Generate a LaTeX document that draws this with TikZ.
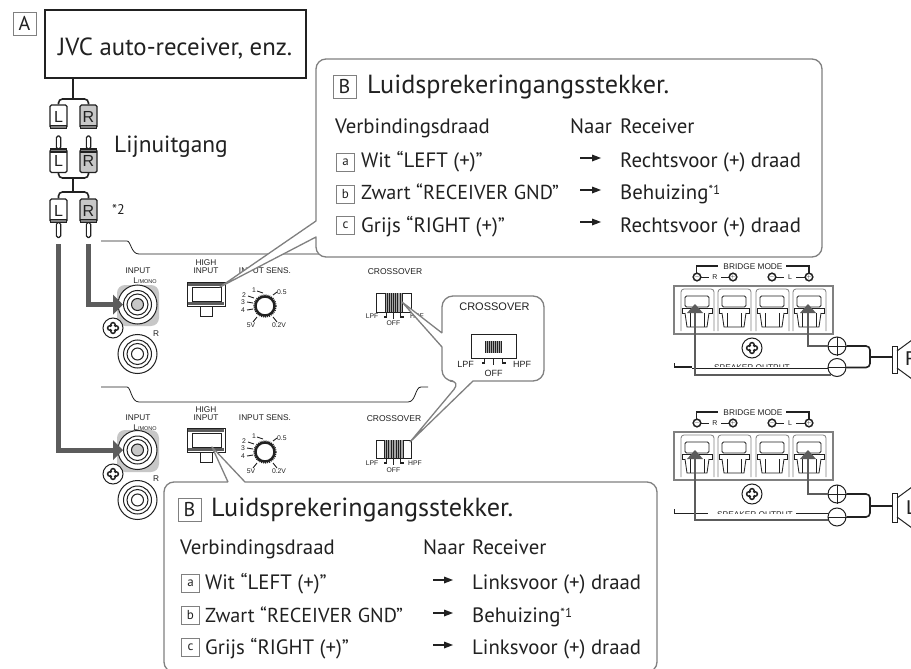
\documentclass[tikz,border=0pt]{standalone}
\usepackage{fontspec}
\setmainfont{PT Sans}
\newfontfamily\hv{Liberation Sans}
\usetikzlibrary{calc}
\definecolor{ink}{gray}{0.13}
\definecolor{bubgray}{gray}{0.5}
\definecolor{wiregray}{gray}{0.36}
\definecolor{lightfill}{gray}{0.78}
\tikzset{
  x=1pt,y=-1pt,
  bubble/.style={draw=bubgray,line width=1.3pt,fill=white,line join=round},
  boxlabel/.style={draw=bubgray,line width=0.9pt,fill=white,inner sep=0pt,text=ink},
  big/.style={anchor=base west,inner sep=0pt,text=ink,font=\fontsize{26.2}{26}\selectfont},
  mid/.style={anchor=base west,inner sep=0pt,text=ink,font=\fontsize{20.8}{21}\selectfont},
  midcaps/.style={anchor=base west,inner sep=0pt,text=ink,font=\fontsize{20.2}{21}\selectfont},
  tiny/.style={inner sep=0pt,text=ink,font=\hv\fontsize{8.3}{8.3}\selectfont,align=center},
  nano/.style={inner sep=0pt,text=ink,font=\hv\fontsize{6.8}{6.8}\selectfont},
  plugbody/.style={draw=ink,line width=1.2pt,rounded corners=1.5pt,minimum width=17pt,minimum height=23pt,inner sep=0pt,text=ink,font=\hv\fontsize{16}{16}\selectfont},
  pinshape/.style={draw=ink,line width=1.1pt,fill=white,rounded corners=1.8pt},
  cable/.style={draw=ink,line width=1.6pt,rounded corners=4pt},
  thickcable/.style={draw=wiregray,line width=5pt},
  panel/.style={draw=ink,line width=0.8pt},
  thinwire/.style={draw=wiregray,line width=2.4pt},
  blackwire/.style={draw=ink,line width=1.6pt,rounded corners=4pt},
}
\newcommand{\upin}[1]{\draw[pinshape] ([xshift=-2.2pt]#1.north) rectangle ++(4.4,-13);}
\newcommand{\dpin}[1]{\draw[pinshape] ([xshift=-2.2pt]#1.south) rectangle ++(4.4,15);}
\newcommand{\screw}[2]{%
  \draw[ink,line width=1pt,fill=white] (#1,#2) circle[radius=10];
  \foreach \a in {0,90,180,270}{\draw[ink,line width=1.5pt] ($(#1,#2)+(\a:3.2)$) circle[radius=2.2];}
  \fill[white] (#1,#2) circle[radius=2.2];}
\newcommand{\rings}[3]{%
  \draw[ink,line width=1pt,fill=white] (#1,#2) circle[radius=19.5];
  \draw[ink,line width=1pt] (#1,#2) circle[radius=14];
  \draw[ink,line width=1pt] (#1,#2) circle[radius=10.5];
  \draw[ink,line width=1pt,fill=#3] (#1,#2) circle[radius=6];}
\newcommand{\knob}[2]{%
  \draw[ink,line width=2.4pt] (#1,#2) circle[radius=9.5];
  \draw[ink,line width=1.4pt,dash pattern=on 1pt off 1pt] (#1,#2) circle[radius=11];
  \foreach \dx/\dy/\ex/\ey in {-2/-13/-8/-15, 8/-11/12/-14, -11/-8/-17/-10, -12/-3/-18/-4, -12/3/-18/4, -8/11/-12/16, 8/11/12/16}
    {\draw[ink,line width=0.9pt] ($(#1,#2)+(\dx,\dy)$) -- ($(#1,#2)+(\ex,\ey)$);}
  \node[nano] at ($(#1,#2)+(-11,-16)$) {1};
  \node[nano,anchor=west] at ($(#1,#2)+(12,-14)$) {0.5};
  \node[nano] at ($(#1,#2)+(-21,-11)$) {2};
  \node[nano] at ($(#1,#2)+(-22,-4)$) {3};
  \node[nano] at ($(#1,#2)+(-22,4)$) {4};
  \node[nano] at ($(#1,#2)+(-14,19)$) {5V};
  \node[nano] at ($(#1,#2)+(14,19)$) {0.2V};}
% x1 y1 x2 y2 sx1 sx2 sy1 sy2
\newcommand{\slider}[8]{%
  \draw[ink,line width=0.9pt,fill=white] (#1,#2) rectangle (#3,#4);
  \fill[gray!70] (#5,#7) rectangle (#6,#8);
  \foreach \k in {0,...,8}{\draw[ink,line width=0.6pt] ($(#5,#7)!\k/8!(#6,#7)$) -- ($(#5,#8)!\k/8!(#6,#8)$);}
  \draw[ink,line width=1.2pt] ($(#1,#4)!.3!(#3,#4)$) -- ++(0,5) -- ++(-3,0);
  \draw[ink,line width=1.2pt] ($(#1,#4)!.5!(#3,#4)$) -- ++(0,7);
  \draw[ink,line width=1.2pt] ($(#1,#4)!.7!(#3,#4)$) -- ++(0,5) -- ++(3,0);}
\newcommand{\highinput}[2]{%
  \draw[ink,line width=0.8pt,fill=white] (#1+13,#2+24) rectangle (#1+25,#2+34);
  \draw[ink,line width=1pt,fill=white] (#1,#2) rectangle (#1+38,#2+24);
  \fill[wiregray] (#1+1,#2+1) rectangle (#1+37,#2+4);
  \fill[wiregray] (#1+1,#2+20) rectangle (#1+37,#2+23);
  \draw[ink,line width=0.8pt,fill=white] (#1+5,#2+5) rectangle (#1+34,#2+19);}
\newcommand{\termunit}[2]{%
  \draw[bubgray,line width=0.8pt,rounded corners=3pt] (#1-16,#2+45) -- (#1-16,#2+3) -- (#1+17,#2+3) -- (#1+17,#2+45);
  \draw[ink,line width=0.8pt,rounded corners=1.5pt,fill=white] (#1-12,#2+10) rectangle (#1+12,#2+21);
  \draw[ink,line width=0.8pt,fill=white] (#1-15,#2+22) rectangle (#1+15,#2+27);
  \draw[ink,line width=0.8pt,fill=white] (#1-12,#2+27) -- (#1-10,#2+41) -- (#1+10,#2+41) -- (#1+12,#2+27);
  \draw[ink,line width=0.6pt] (#1-7,#2+27) -- (#1-7,#2+41) (#1+7,#2+27) -- (#1+7,#2+41);}
\newcommand{\bridge}[1]{%
  \draw[ink,line width=1.3pt] (696.5,#1-12) -- (696.5,#1-20) -- (718,#1-20);
  \draw[ink,line width=1.3pt] (809,#1-12) -- (809,#1-20) -- (786,#1-20);
  \node[tiny,fill=white,inner xsep=1pt] at (753,#1-19.5) {BRIDGE MODE};
  \foreach \cx/\s in {697/-,733/+,772/-,809/+}{\draw[ink,line width=1.5pt,fill=white] (\cx,#1-9) circle[radius=3.8];\node[inner sep=0pt,font=\hv\fontsize{5}{5}\selectfont] at (\cx,#1-9) {$\s$};}
  \draw[ink,line width=1pt] (701,#1-9) -- (709,#1-9) (721,#1-9) -- (729,#1-9) (776,#1-9) -- (784,#1-9) (796,#1-9) -- (805,#1-9);
  \node[nano,font=\hv\fontsize{7}{7}\selectfont] at (715,#1-9) {R};
  \node[nano,font=\hv\fontsize{7}{7}\selectfont] at (790,#1-9) {L};
  \draw[bubgray,line width=1.2pt,fill=white] (674,#1) rectangle (833,#1+48);
  \foreach \u in {697,734,772,809}{\termunit{\u}{#1}}}
\begin{document}
\begin{tikzpicture}
\useasboundingbox (0,0) rectangle (911,669);
\clip (0,0) rectangle (911,669);
\fill[white] (0,0) rectangle (911,669);
% ---------- source
\node[boxlabel,minimum size=23pt,font=\fontsize{20}{20}\selectfont] (lblA) at (24.5,23.5) {A};
\node[draw=ink,line width=2pt,minimum width=261pt,minimum height=68pt,inner sep=0pt,fill=white] (recv) at (175,44) {};
\node[big,font=\fontsize{24.8}{25}\selectfont] (recvtxt) at (58,56) {JVC auto-receiver, enz.};
\node[plugbody,fill=white] (l1) at (58.5,116.5) {L};
\node[plugbody,fill=lightfill] (r1) at (88.5,116.5) {R};
\node[plugbody,fill=white] (l2) at (58.5,161) {L};
\node[plugbody,fill=lightfill] (r2) at (88.5,161) {R};
\node[plugbody,fill=white] (l3) at (58.5,210.5) {L};
\node[plugbody,fill=lightfill] (r3) at (88.5,210.5) {R};
\upin{l2}\upin{r2}\dpin{l3}\dpin{r3}
\draw[cable] (recv.south -| 73,78) -- (73,99);
\draw[cable] (l1.north) -- (58.5,99) -- (88.5,99) -- (r1.north);
\draw[cable] (l2.south) -- (58.5,178) -- (88.5,178) -- (r2.south);
\draw[cable,sharp corners] (73,178) -- (73,192);
\draw[cable] (l3.north) -- (58.5,192) -- (88.5,192) -- (r3.north);
\foreach \n in {l1,r1,l3,r3}{\draw[ink,line width=1.4pt,fill=gray] ([xshift=-8pt,yshift=3pt]\n.south) rectangle ([xshift=8pt]\n.south);}
\foreach \n in {l2,r2}{\draw[ink,line width=1.4pt,fill=gray] ([xshift=-8pt,yshift=-3pt]\n.north) rectangle ([xshift=8pt]\n.north);}
\node[big,font=\fontsize{23.4}{24}\selectfont] (lijn) at (114,152) {Lijnuitgang};
\node[inner sep=0pt,text=ink,font=\fontsize{14}{14}\selectfont] (st2) at (118.5,209) {*2};
% ---------- panels
\draw[panel] (101,241) -- (127,241) .. controls (131,241) and (131,254) .. (139,254) -- (330,254);
\draw[panel] (101,387) -- (127,387) .. controls (131,387) and (131,402) .. (139,402) -- (408,402) .. controls (416,402) and (415,387) .. (421,387) -- (428,387);
% top channel
\node[tiny] (in1) at (138,271) {INPUT};
\node[tiny] (lm1) at (145,281) {L\fontsize{5.5}{5.5}\selectfont/MONO};
\fill[lightfill,rounded corners=8pt] (117,285) rectangle (159,326);
\rings{137.5}{304.5}{lightfill}
\screw{113}{328}
\node[tiny] (r1t) at (156,333.5) {R};
\rings{137.5}{354}{white}
\node[tiny] (hi1) at (206,267) {HIGH\\[-0.5pt]INPUT};
\highinput{187}{282}
\node[tiny] (se1) at (265,271) {INPUT SENS.};
\knob{265}{306}
\node[tiny,font=\hv\fontsize{8.5}{8.5}\selectfont] (cr1) at (395,271.5) {CROSSOVER};
\slider{376}{293}{411}{312}{385}{402}{293}{312}
\node[nano] (lp1) at (372,316) {LPF};
\node[nano] (hp1) at (417,316) {HPF};
\node[nano] (of1) at (393.5,323.5) {OFF};
% lower channel
\node[tiny] (in2) at (138,418) {INPUT};
\node[tiny] (lm2) at (145,428) {L\fontsize{5.5}{5.5}\selectfont/MONO};
\fill[lightfill,rounded corners=8pt] (117,430) rectangle (159,472);
\rings{137.5}{450}{lightfill}
\screw{113}{474}
\node[tiny] (r2t) at (156,478.5) {R};
\rings{137.5}{500}{white}
\node[tiny] (hi2) at (206,414) {HIGH\\[-0.5pt]INPUT};
\highinput{187}{428}
\node[tiny] (se2) at (265,418) {INPUT SENS.};
\knob{265}{452}
\node[tiny,font=\hv\fontsize{8.5}{8.5}\selectfont] (cr2) at (394,418.5) {CROSSOVER};
\slider{376}{440}{411}{458}{384}{403}{440}{458}
\node[nano] (lp2) at (372,463) {LPF};
\node[nano] (hp2) at (415,463) {HPF};
\node[nano] (of2) at (393.5,470.5) {OFF};
% thick cables
\coordinate (jackR) at (123,304.5);
\coordinate (jackL) at (123,450);
\draw[thickcable] (88.5,244) -- (88.5,304.5) -- (114,304.5);
\draw[thickcable] (58.5,244) -- (58.5,450) -- (114,450);
\fill[wiregray] (jackR) -- (113,294.5) -- (113,314.5) -- cycle;
\fill[wiregray] (jackL) -- (113,440) -- (113,460) -- cycle;
% ---------- right terminals, top
\bridge{286}
\begin{scope}
\clip (670,364) rectangle (830,366.5);
\node[tiny] (so1) at (752,367.5) {SPEAKER OUTPUT};
\end{scope}
\screw{752}{348}
\draw[ink,line width=1.6pt] (674.5,363) -- (674.5,367) -- (692,367);
\draw[ink,line width=0.8pt] (692,368) -- (828,368);
\node[draw=ink,line width=1pt,circle,minimum size=18pt,inner sep=0pt,fill=white] (p1) at (837,346) {};
\node[draw=ink,line width=1pt,circle,minimum size=18pt,inner sep=0pt,fill=white] (m1) at (837,367.5) {};
\draw[ink,line width=.9pt] (p1.west) -- (p1.east) (p1.north) -- (p1.south) (m1.west) -- (m1.east);
\draw[thinwire] (p1.west) -| (808,312);
\draw[thinwire] (695,312) |- (m1.230);
\fill[wiregray] (808,304) -- (800,313) -- (816,313) -- cycle;
\fill[wiregray] (695,304) -- (687,313) -- (703,313) -- cycle;
\coordinate (j1) at (870,357);
\draw[blackwire] (p1.east) -- (870,346) -- (870,367.5) -- (m1.east);
\draw[ink,line width=1.6pt] (j1) -- (892,357);
\draw[ink,line width=1pt,fill=white] (892,346) rectangle (897,373);
\draw[ink,line width=1pt] (897,351) -- (912,340) (897,368) -- (912,379);
\node[inner sep=0pt,anchor=base west,text=ink,font=\hv\fontsize{20}{20}\selectfont] (spR) at (905,365) {R};
% ---------- right terminals, lower
\bridge{432}
\begin{scope}
\clip (670,505) rectangle (830,513);
\node[tiny] (so2) at (755,514.5) {SPEAKER OUTPUT};
\end{scope}
\screw{752}{494}
\draw[ink,line width=1.6pt] (674.5,509) -- (674.5,513.5) -- (708,513.5);
\draw[ink,line width=1.2pt] (796,513.5) -- (828,513.5);
\node[draw=ink,line width=1pt,circle,minimum size=18pt,inner sep=0pt,fill=white] (p2) at (837,494) {};
\node[draw=ink,line width=1pt,circle,minimum size=18pt,inner sep=0pt,fill=white] (m2) at (837,517) {};
\draw[ink,line width=.9pt] (p2.west) -- (p2.east) (p2.north) -- (p2.south) (m2.west) -- (m2.east);
\draw[thinwire] (p2.west) -| (808,458);
\draw[thinwire] (695,458) |- (m2.200);
\fill[wiregray] (808,450) -- (800,459) -- (816,459) -- cycle;
\fill[wiregray] (695,450) -- (687,459) -- (703,459) -- cycle;
\coordinate (j2) at (870,506);
\draw[blackwire] (p2.east) -- (870,494) -- (870,517) -- (m2.east);
\draw[ink,line width=1.6pt] (j2) -- (892,506);
\draw[ink,line width=1pt,fill=white] (892,493) rectangle (897,522);
\draw[ink,line width=1pt] (897,498) -- (912,487) (897,517) -- (912,528);
\node[inner sep=0pt,anchor=base west,text=ink,font=\hv\fontsize{20}{20}\selectfont] (spL) at (906,514) {L};
% ---------- bubbles
\coordinate (tipA) at (220,287);
\draw[bubble] (316,221) -- (tipA) -- (316,237) [rounded corners=10pt] -- (316,257) -- (822,257) -- (822,59) -- (316,59) -- (316,221);
\coordinate (tipB) at (212,447);
\draw[bubble] (228,482) -- (tipB) -- (245,482) [rounded corners=10pt] -- (657,482) -- (657,672) -- (164,672) -- (164,482) -- (228,482);
\coordinate (tipC) at (402,302);
\coordinate (tipD) at (410,442);
\draw[bubble] (442,333) -- (tipC) -- (442,347) [rounded corners=11pt] -- (442,381) -- (461,381) [sharp corners] -- (tipD) -- (473,381) [rounded corners=11pt] -- (544,381) -- (544,296) -- (442,296) -- (442,333);
% crossover detail
\node[tiny,font=\hv\fontsize{11}{11}\selectfont] (cr3) at (494.5,307) {CROSSOVER};
\slider{471}{334}{516}{358}{485}{501}{341}{353}
\node[tiny,font=\hv\fontsize{9}{9}\selectfont,anchor=east] (lp3) at (474,364.5) {LPF};
\node[tiny,font=\hv\fontsize{9}{9}\selectfont,anchor=west] (hp3) at (513,364.5) {HPF};
\node[tiny,font=\hv\fontsize{9}{9}\selectfont] (of3) at (493.5,373.5) {OFF};
% bubble 1 text
\node[boxlabel,minimum size=23pt,font=\fontsize{20}{20}\selectfont] (b1) at (344.5,87) {B};
\node[big] (t1) at (367,94) {Luidsprekeringangsstekker.};
\node[mid] (v1) at (335,133) {Verbindingsdraad};
\node[mid] (n1) at (570,133) {Naar};
\node[mid] (rc1) at (620,133) {Receiver};
\node[boxlabel,minimum size=18pt,font=\fontsize{13}{13}\selectfont] (a1) at (345.5,162) {a};
\node[boxlabel,minimum size=18pt,font=\fontsize{13}{13}\selectfont] (bb1) at (345.5,194) {b};
\node[boxlabel,minimum size=18pt,font=\fontsize{13}{13}\selectfont] (c1) at (345.5,225.5) {c};
\node[mid] (ta1) at (361,167) {Wit “LEFT (+)”};
\node[midcaps] (tb1) at (361,199) {Zwart “RECEIVER GND”};
\node[mid] (tc1) at (361,232) {Grijs “RIGHT (+)”};
\foreach \yy in {158,190,222}{\draw[ink,line width=1.6pt] (580,\yy) -- (594,\yy); \fill[ink] (601,\yy) -- (592,\yy-3.5) -- (592,\yy+3.5) -- cycle;}
\node[mid] (ra1) at (620,167) {Rechtsvoor (+) draad};
\node[mid] (rb1) at (620,199) {Behuizing\raisebox{5pt}{\fontsize{13}{13}\selectfont*1}};
\node[mid] (rc1b) at (620,232) {Rechtsvoor (+) draad};
% bubble 2 text
\node[boxlabel,minimum size=23pt,font=\fontsize{20}{20}\selectfont] (b2) at (189.5,509.5) {B};
\node[big] (t2) at (211,516) {Luidsprekeringangsstekker.};
\node[mid] (v2) at (180,554) {Verbindingsdraad};
\node[mid] (n2) at (423,554) {Naar};
\node[mid] (rc2) at (472,554) {Receiver};
\node[boxlabel,minimum size=18pt,font=\fontsize{13}{13}\selectfont] (a2) at (190.5,583.5) {a};
\node[boxlabel,minimum size=18pt,font=\fontsize{13}{13}\selectfont] (bb2) at (190.5,615.5) {b};
\node[boxlabel,minimum size=18pt,font=\fontsize{13}{13}\selectfont] (c2) at (190.5,647.5) {c};
\node[mid] (ta2) at (205,589) {Wit “LEFT (+)”};
\node[midcaps] (tb2) at (205,622) {Zwart “RECEIVER GND”};
\node[mid] (tc2) at (205,654) {Grijs “RIGHT (+)”};
\foreach \yy in {580,613,645}{\draw[ink,line width=1.6pt] (433,\yy) -- (446,\yy); \fill[ink] (453,\yy) -- (444,\yy-3.5) -- (444,\yy+3.5) -- cycle;}
\node[mid] (ra2) at (472,589) {Linksvoor (+) draad};
\node[mid] (rb2) at (472,622) {Behuizing\raisebox{5pt}{\fontsize{13}{13}\selectfont*1}};
\node[mid] (rc2b) at (472,654) {Linksvoor (+) draad};
\end{tikzpicture}
\end{document}
